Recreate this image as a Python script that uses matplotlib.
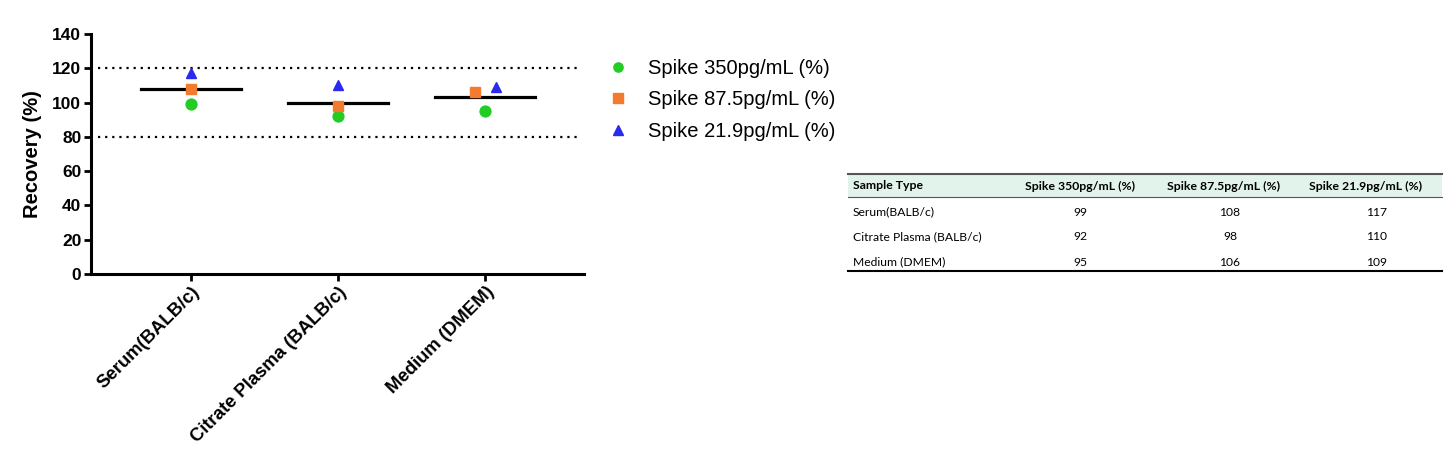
import matplotlib
matplotlib.use("Agg")
import matplotlib.pyplot as plt
import numpy as np

# data
samples = ["Serum(BALB/c)", "Citrate Plasma (BALB/c)", "Medium (DMEM)"]
series = ["Spike 350pg/mL (%)", "Spike 87.5pg/mL (%)", "Spike 21.9pg/mL (%)"]
spike_350 = [99, 92, 95]
spike_87 = [108, 98, 106]
spike_21 = [117, 110, 109]
yticks = [0, 20, 40, 60, 80, 100, 120, 140]
limits = [80, 120]

# styles
colors = ["#22cc22", "#f47a2e", "#2a2aee"]
markers = ["o", "s", "^"]
# small horizontal nudges so overlapping points stay visible (per sample)
nudge = [[0, 0, 0], [0, 0, 0], [0, -0.07, 0.07]]

plt.rcParams["font.family"] = ["Liberation Sans", "DejaVu Sans"]

W, H = 1445, 461
fig = plt.figure(figsize=(W / 100, H / 100), dpi=100)
ax = fig.add_axes([91/W, 1 - 274/H, (584-91)/W, (274-34)/H])

values = np.array([spike_350, spike_87, spike_21])
x = np.arange(len(samples))
for i in range(len(series)):
    xs = x + np.array([n[i] for n in nudge])
    ax.plot(xs, values[i], linestyle="none", marker=markers[i], color=colors[i],
            markersize=7.8, label=series[i], zorder=3)

means = values.mean(axis=0)
for xi, m in zip(x, means):
    ax.plot([xi - 0.34, xi + 0.34], [m, m], color="black", lw=2.3, zorder=2)

for lim in limits:
    ax.axhline(lim, xmin=0.015, xmax=0.994, color="black", linestyle=(0, (1, 2.2)), lw=1.6)

ax.set_xlim(-0.68, 2.67)
ax.set_ylim(0, 140)
ax.set_yticks(yticks)
ax.set_xticks(x)
ax.set_xticklabels(samples, rotation=45, ha="right", rotation_mode="anchor",
                   fontsize=13.3, fontweight="bold")
for lab in ax.get_yticklabels():
    lab.set_fontsize(12.5)
    lab.set_fontweight("bold")
ax.set_ylabel("Recovery (%)", fontsize=14.5, fontweight="bold", labelpad=7)
for s in ["top", "right"]:
    ax.spines[s].set_visible(False)
for s in ["left", "bottom"]:
    ax.spines[s].set_linewidth(2.2)
ax.tick_params(width=2, length=5, pad=2)

ax.legend(loc="upper left", bbox_to_anchor=(608/W, 1 - 59/H), bbox_transform=fig.transFigure,
          frameon=False, fontsize=14.5, borderpad=0, borderaxespad=0,
          handlelength=1.0, handletextpad=1.0, labelspacing=0.62, markerscale=0.85)

# table
tx = fig.add_axes([846/W, 1 - 274/H, (1444-846)/W, (274-171)/H])
tx.set_xlim(846, 1444)
tx.set_ylim(274, 171)
tx.axis("off")
tx.fill_between([848, 1442], 174, 197, color="#e2f3ec", lw=0)
tx.plot([848, 1442], [174, 174], color="#555555", lw=1.5)
tx.plot([848, 1442], [197, 197], color="#555555", lw=0.8)
tx.plot([848, 1442], [271, 271], color="black", lw=1.5)

head_x = [1080, 1224, 1366]
col_x = [1080, 1230, 1377]
row_y = [212, 237, 262]
tfont = ["Lato", "DejaVu Sans"]
tx.text(853, 186, "Sample Type", fontsize=8.8, fontweight="bold", va="center", family=tfont)
for hx, name in zip(head_x, series):
    tx.text(hx, 186, name, fontsize=8.8, fontweight="bold", va="center", ha="center", family=tfont)
for r, (ry, name) in enumerate(zip(row_y, samples)):
    tx.text(853, ry, name, fontsize=8.7, va="center", family=tfont)
    for c, cx in enumerate(col_x):
        tx.text(cx, ry, str(values[c][r]), fontsize=8.7, va="center", ha="center", family=tfont)

fig.savefig("out.png", dpi=100)
